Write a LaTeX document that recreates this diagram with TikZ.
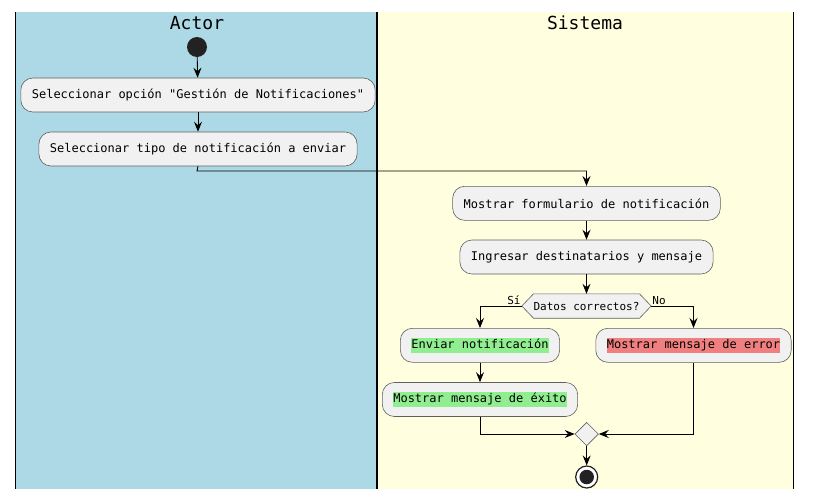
\documentclass[tikz,border=0pt]{standalone}
\usepackage{fontspec}
\newfontfamily\monofont{DejaVu Sans Mono}
\usetikzlibrary{arrows.meta,shapes.geometric}
\definecolor{lanea}{HTML}{ADD8E6}
\definecolor{laneb}{HTML}{FFFFE0}
\definecolor{boxfill}{HTML}{F1F1F1}
\definecolor{boxline}{HTML}{5F5F5F}
\definecolor{dot}{HTML}{222222}
\definecolor{okgreen}{HTML}{90EE90}
\definecolor{errred}{HTML}{F08080}
\newcommand{\hl}[2]{{\setlength\fboxsep{0pt}\colorbox{#1}{\strut #2}}}
\tikzset{
  actbox/.style={draw=boxline, line width=0.6pt, fill=boxfill, rounded corners=12pt,
    minimum height=34pt, inner xsep=11pt, inner ysep=0pt,
    font=\monofont\fontsize{12}{14.4}\selectfont},
  lanetitle/.style={font=\monofont\fontsize{18}{20}\selectfont, inner sep=0pt},
  flow/.style={line width=0.9pt, -{Stealth[length=10pt,width=8pt,inset=3.5pt]}},
  plain/.style={line width=0.9pt},
  lbl/.style={font=\monofont\fontsize{11}{13}\selectfont, inner sep=1pt},
  lanesep/.style={line width=1.5pt, black}
}
\begin{document}
\begin{tikzpicture}[x=1pt,y=-1pt]
\useasboundingbox (0,0) rectangle (815,499);
% lanes
\fill[lanea] (16,12) rectangle (377,489);
\fill[laneb] (377,12) rectangle (793,489);
\draw[lanesep] (15.5,12) -- (15.5,489);
\draw[lanesep] (377,12) -- (377,489);
\draw[lanesep] (793.5,12) -- (793.5,489);
\node[lanetitle] (tA) at (197,23) {Actor};
\node[lanetitle] (tS) at (585,23) {Sistema};
% nodes
\node[circle, fill=dot, minimum size=20pt, inner sep=0pt] (start) at (197,47) {};
\node[actbox] (b1) at (198,95) {Seleccionar opción "Gestión de Notificaciones"};
\node[actbox] (b2) at (198,149) {Seleccionar tipo de notificación a enviar};
\node[actbox] (b3) at (586.5,203.3) {Mostrar formulario de notificación};
\node[actbox] (b4) at (586.5,257) {Ingresar destinatarios y mensaje};
\node[minimum width=129pt, minimum height=24pt, inner sep=0pt,
  font=\monofont\fontsize{11}{13}\selectfont] (dec) at (586.5,306) {Datos correctos?};
\draw[draw=boxline, line width=0.6pt, fill=boxfill]
  (dec.west) -- ([xshift=11.7pt]dec.north west) -- ([xshift=-11.7pt]dec.north east)
  -- (dec.east) -- ([xshift=-11.7pt]dec.south east) -- ([xshift=11.7pt]dec.south west) -- cycle;
\node[font=\monofont\fontsize{11}{13}\selectfont, inner sep=0pt] at (dec.center) {Datos correctos?};
\node[actbox] (b5) at (480,345.3) {\hl{okgreen}{Enviar notificación}};
\node[actbox] (b6) at (480,399.5) {\hl{okgreen}{Mostrar mensaje de éxito}};
\node[actbox] (b7) at (693.5,345.3) {\hl{errred}{Mostrar mensaje de error}};
\node[diamond, draw=boxline, line width=0.6pt, fill=boxfill, minimum width=23.5pt,
  minimum height=23.5pt, inner sep=0pt] (merge) at (586.7,434) {};
\node[circle, draw=dot, line width=1.2pt, fill=white, minimum size=22pt, inner sep=0pt] (stop) at (586.7,477) {};
\node[circle, fill=dot, minimum size=14.5pt, inner sep=0pt] (stopin) at (stop.center) {};
% connectors
\coordinate (c1) at (197,171);
\coordinate (c2) at (586.5,171);
\draw[flow] (start) -- (b1);
\draw[flow] (b1) -- (b2);
\draw[flow] (b2.south) -- (c1) -- (c2) -- (b3.north);
\draw[flow] (b3) -- (b4);
\draw[flow] (b4) -- (dec.north);
\draw[flow] (dec.west) -| (b5.north);
\draw[flow] (dec.east) -| (b7.north);
\node[lbl, anchor=south east] (si) at (dec.west) {Sí};
\node[lbl, anchor=south west] (no) at (dec.east) {No};
\draw[flow] (b5) -- (b6);
\draw[flow] (b6.south) |- (merge.west);
\draw[flow] (b7.south) |- (merge.east);
\draw[flow] (merge.south) -- (stop.north);
\end{tikzpicture}
\end{document}
